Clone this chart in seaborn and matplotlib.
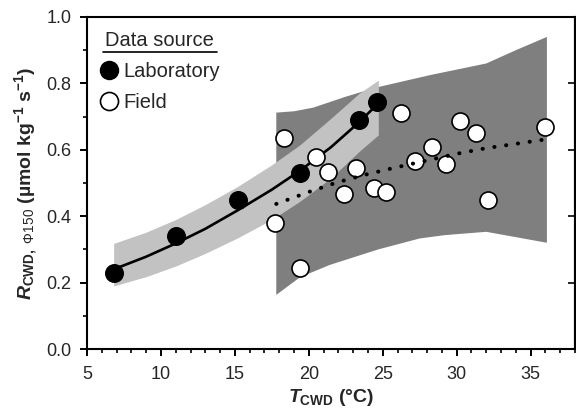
import numpy as np
import pandas as pd
import matplotlib
matplotlib.use('Agg')
import matplotlib.pyplot as plt
from matplotlib.lines import Line2D
from matplotlib.ticker import MultipleLocator
import seaborn as sns

#---------------------------------------------------------
# laboratory points
lab_t=[6.8, 11.0, 15.2, 19.4, 23.4, 24.6]
lab_r=[0.23, 0.34, 0.45, 0.53, 0.69, 0.745]
# field points
field_t=[17.7, 18.3, 19.4, 20.5, 21.3, 22.4, 23.2, 24.4, 25.2, 26.2, 27.2, 28.3, 29.3, 30.2, 31.3, 32.1, 36.0]
field_r=[0.38, 0.635, 0.245, 0.577, 0.532, 0.467, 0.544, 0.486, 0.474, 0.71, 0.566, 0.609, 0.556, 0.688, 0.65, 0.449, 0.67]

# laboratory fit and its band
labfit_t=[6.8, 9.0, 11.0, 13.0, 15.2, 17.5, 19.4, 21.5, 23.4, 24.7]
labfit_r=[0.24, 0.278, 0.318, 0.362, 0.418, 0.48, 0.537, 0.608, 0.683, 0.74]
lab_lo=[0.19, 0.218, 0.25, 0.288, 0.335, 0.39, 0.445, 0.515, 0.595, 0.645]
lab_hi=[0.318, 0.352, 0.39, 0.435, 0.49, 0.555, 0.615, 0.695, 0.77, 0.81]

# field fit and its band
ffit_t=[17.8, 20.0, 22.0, 24.0, 26.0, 28.0, 30.0, 32.0, 34.0, 36.1]
ffit_r=[0.437, 0.473, 0.503, 0.527, 0.548, 0.568, 0.588, 0.605, 0.618, 0.632]
fhi_t=[17.8, 19.0, 20.3, 22.5, 24.6, 28.2, 32.0, 34.0, 36.1]
fhi_r=[0.712, 0.716, 0.727, 0.76, 0.788, 0.825, 0.86, 0.90, 0.94]
flo_t=[17.8, 19.4, 21.4, 24.7, 27.5, 29.2, 32.0, 36.1]
flo_r=[0.163, 0.216, 0.253, 0.30, 0.333, 0.343, 0.353, 0.32]

dark='#7f7f7f'
light='#c2c2c2'

#---------------------------------------------------------
sns.set_style('ticks')
plt.rcParams['font.family']=['Liberation Sans', 'DejaVu Sans']
plt.rcParams['mathtext.fontset']='custom'
plt.rcParams['mathtext.rm']='Liberation Sans:bold'
plt.rcParams['mathtext.bf']='Liberation Sans:bold'
plt.rcParams['mathtext.it']='Liberation Sans:bold:italic'
plt.rcParams['mathtext.sf']='Liberation Sans'

df_lab=pd.DataFrame({'t': lab_t, 'r': lab_r})
df_field=pd.DataFrame({'t': field_t, 'r': field_r})
df_lfit=pd.DataFrame({'t': labfit_t, 'r': labfit_r, 'lo': lab_lo, 'hi': lab_hi})
df_ffit=pd.DataFrame({'t': ffit_t, 'r': ffit_r})

fig=plt.figure(figsize=(5.76, 4.16), dpi=100)
ax=fig.add_axes([87/576, 67/416, 488/576, 332/416])

#bands
ax.fill(fhi_t+flo_t[::-1], fhi_r+flo_r[::-1], color=dark, lw=0, zorder=1)
ax.fill_between(df_lfit['t'], df_lfit['lo'], df_lfit['hi'], color=light, lw=0, zorder=2)
#lab fit line
sns.lineplot(x='t', y='r', data=df_lfit, color='black', lw=1.9, sort=False, estimator=None, ax=ax, zorder=3)
#field points
sns.scatterplot(x='t', y='r', data=df_field, color='white', edgecolor='black', linewidth=1.2, s=150, ax=ax, zorder=4)
#field fit (dotted)
sns.lineplot(x='t', y='r', data=df_ffit, color='black', lw=2.9, sort=False, estimator=None, ax=ax, zorder=5,
	linestyle=(0, (0.05, 2.9)), dash_capstyle='round')
#lab points
sns.scatterplot(x='t', y='r', data=df_lab, color='black', edgecolor='black', linewidth=1.0, s=160, ax=ax, zorder=6)

#axes
ax.set_xlim(5, 38)
ax.set_ylim(0, 1.0)
ax.xaxis.set_major_locator(MultipleLocator(5))
ax.xaxis.set_minor_locator(MultipleLocator(1))
ax.yaxis.set_major_locator(MultipleLocator(0.2))
ax.yaxis.set_minor_locator(MultipleLocator(0.1))
ax.yaxis.set_major_formatter(matplotlib.ticker.FormatStrFormatter('%.1f'))
ax.tick_params(which='major', direction='out', length=5, width=1.4, labelsize=13, color='black', pad=6)
ax.tick_params(which='minor', direction='out', length=3, width=1.2, color='black')
ax.tick_params(axis='x', which='major', pad=7)
for sp in ax.spines.values():
	sp.set_linewidth(1.5)
	sp.set_color('black')
sec=ax.secondary_yaxis('right')
sec.yaxis.set_major_locator(MultipleLocator(0.2))
sec.tick_params(direction='in', length=5, width=1.4, labelright=False)
sec.spines['right'].set_linewidth(1.5)

ax.set_xlabel(r'$T_{\mathrm{CWD}}$ (°C)', fontsize=14, weight='bold', labelpad=3)
ax.set_ylabel(r'$R_{\mathrm{CWD,}\ \mathsf{\Phi150}}$ (µmol kg$^{\mathrm{-1}}$ s$^{\mathrm{-1}}$)', fontsize=14, weight='bold', labelpad=5)

#legend
handles=[Line2D([], [], marker='o', ls='', mfc='black', mec='black', ms=13, label='Laboratory'),
	Line2D([], [], marker='o', ls='', mfc='white', mec='black', mew=1.2, ms=13, label='Field')]
leg=ax.legend(handles=handles, title='Data source', loc='upper left', frameon=False, fontsize=14.5,
	title_fontsize=14.5, handletextpad=0.2, handlelength=1.0, labelspacing=0.6, borderaxespad=0.2,
	bbox_to_anchor=(0.0, 0.995))
fig.canvas.draw()
bb=leg.get_title().get_window_extent()
W, H=fig.get_size_inches()*fig.dpi
fig.add_artist(Line2D([(bb.x0-2)/W, (bb.x1+3)/W], [(bb.y0-2)/H, (bb.y0-2)/H], color='black', lw=1.2))

plt.savefig('out.png', dpi=100)
plt.close()
